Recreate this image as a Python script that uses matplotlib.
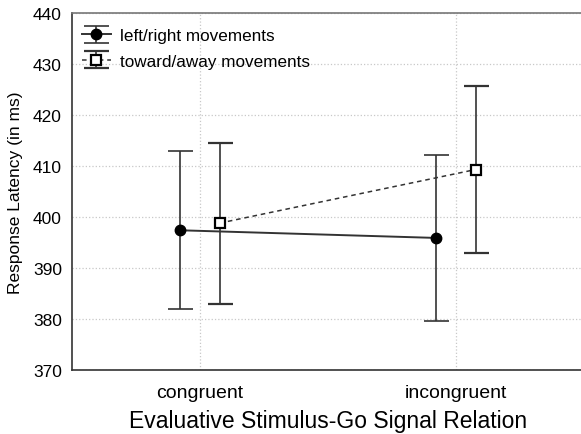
import matplotlib.pyplot as plt
import numpy as np

plt.rcParams['font.family'] = ['Liberation Sans', 'DejaVu Sans']

# datos
condiciones = ['congruent', 'incongruent']
lr_media = [397.4, 395.9]
lr_error = [15.5, 16.2]
ta_media = [398.8, 409.3]
ta_error = [15.8, 16.3]

x = np.arange(1, len(condiciones) + 1)
desplaz = 0.078

fig = plt.figure(figsize=(5.81, 4.35), dpi=100)
ax = fig.add_axes([0.1234, 0.147, 0.881, 0.821])

ax.grid(True, color='#c8c8c8', linestyle=':', linewidth=0.9)
ax.set_axisbelow(True)

ax.errorbar(x - desplaz, lr_media, yerr=lr_error, fmt='o', linestyle='-', color='#333333',
            mfc='black', mec='black', ms=7.5, lw=1.4, elinewidth=1.2,
            capsize=9, capthick=1.2, label='left/right movements', zorder=3)
ax.errorbar(x + desplaz, ta_media, yerr=ta_error, fmt='s', linestyle=(0, (3, 2.5)),
            color='#333333', mfc='white', mec='black', mew=1.6, ms=7, lw=1.1,
            elinewidth=1.2, capsize=9, capthick=1.2,
            label='toward/away movements', zorder=4)

ax.set_xlim(0.5, 2.5)
ax.set_ylim(370, 440)
ax.set_xticks(x)
ax.set_xticklabels(condiciones, fontsize=14)
ax.set_yticks(np.arange(370, 441, 10))
ax.tick_params(axis='y', labelsize=12.5, length=0, pad=7)
ax.tick_params(axis='x', length=0, pad=10)

for s in ['left', 'bottom']:
    ax.spines[s].set_color('#333333')
    ax.spines[s].set_linewidth(1.2)
ax.spines['top'].set_color('#777777')
ax.spines['top'].set_linewidth(1.2)
ax.spines['right'].set_visible(False)

ax.set_xlabel('Evaluative Stimulus-Go Signal Relation', fontsize=16.5, labelpad=6)
ax.set_ylabel('Response Latency (in ms)', fontsize=12.5, labelpad=7)

ax.legend(loc='upper left', bbox_to_anchor=(-0.01, 1.0), frameon=False,
          fontsize=12.3, handlelength=1.7, handletextpad=0.5,
          borderaxespad=0.5, labelspacing=0.6, borderpad=0.4)

plt.savefig('out.png', dpi=100)
